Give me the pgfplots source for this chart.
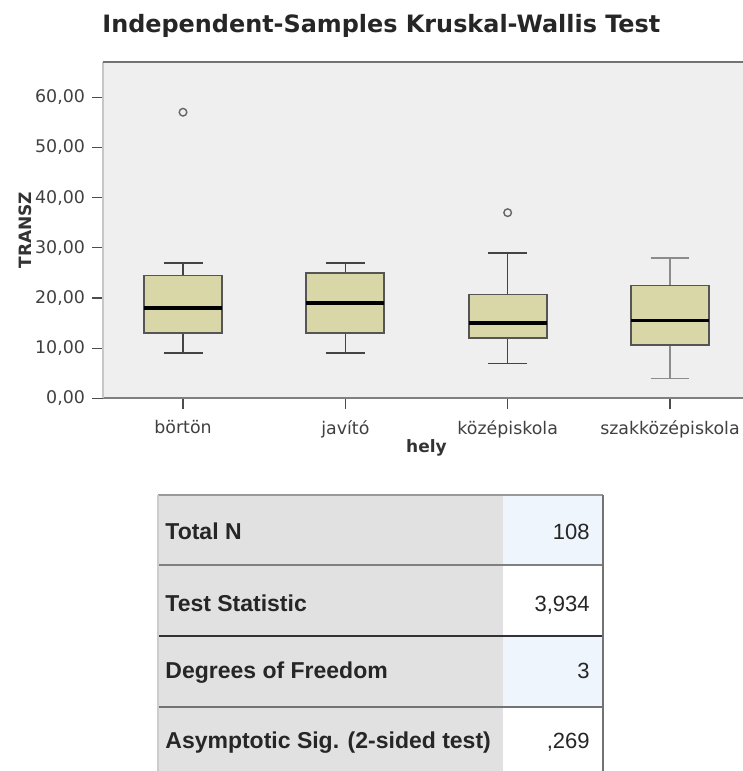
\documentclass[border=0pt]{standalone}
\usepackage{fontspec}
\setmainfont{DejaVu Sans}
\newfontfamily\libsans{Liberation Sans}
\usepackage{pgfplots}
\pgfplotsset{compat=1.18}
\usepgfplotslibrary{statistics}

\definecolor{plotbg}{HTML}{EFEFEF}
\definecolor{boxfill}{HTML}{D9D6A8}
\definecolor{boxedge}{HTML}{555555}
\definecolor{whisk}{HTML}{444444}
\definecolor{leftcol}{HTML}{E1E1E1}
\definecolor{bluecell}{HTML}{EEF5FC}

\begin{document}
\begin{tikzpicture}
\useasboundingbox (0pt,0pt) rectangle (371.5pt,385.5pt);
\begin{scope}[x=0.5pt,y=0.5pt]
\node[anchor=base west, inner sep=0pt, text=black!85,
      font=\bfseries\fontsize{11.95}{14}\selectfont] at (102,738)
      {Independent-Samples Kruskal-Wallis Test};
\end{scope}

\begin{axis}[
    at={(51.5pt,186.25pt)}, anchor=south west,
    scale only axis,
    width=323.5pt, height=168.25pt,
    xmin=0.507, xmax=4.493,
    ymin=0, ymax=67,
    axis background/.style={fill=plotbg},
    axis x line*=bottom,
    axis y line*=left,
    x axis line style={draw=black!50, line width=1pt},
    y axis line style={draw=black!22, line width=0.8pt},
    xtick={1,2,3,4},
    xticklabels={börtön,javító,középiskola,szakközépiskola},
    ytick={0,10,20,30,40,50,60},
    tick align=outside,
    major tick length=5.5pt,
    major tick style={draw=black!70, line width=0.6pt},
    tick label style={font=\fontsize{8.7}{10}\selectfont, text=black!75},
    xticklabel style={yshift=-2pt},
    yticklabel style={/pgf/number format/.cd, fixed, fixed zerofill,
        precision=2, use comma, assume math mode=true},
    xlabel={\bfseries hely},
    ylabel={\bfseries TRANSZ},
    label style={font=\bfseries\fontsize{8.5}{10}\selectfont, text=black!80},
    xlabel style={at={(axis description cs:0.5,0)}, anchor=base,
        yshift=-27.25pt},
    ylabel style={at={(axis description cs:0,0.5)}, anchor=center,
        yshift=39pt},
    boxplot/draw direction=y,
    boxplot/box extend=0.48,
    boxplot/whisker extend=0.24,
    boxplot/every median/.style={draw=black, line width=1.7pt},
    clip=false
]
\addplot[draw=boxedge, line width=0.9pt, fill=boxfill,
    mark=o, mark size=1.9pt,
    mark options={draw=black!60, line width=0.7pt, fill=none},
    boxplot/every whisker/.style={draw=whisk, line width=0.8pt},
    boxplot prepared={lower whisker=9, lower quartile=13, median=18,
        upper quartile=24.5, upper whisker=27, draw position=1}]
    coordinates {(0,57)};
\addplot[draw=boxedge, line width=0.9pt, fill=boxfill,
    boxplot/every whisker/.style={draw=whisk, line width=0.8pt},
    boxplot prepared={lower whisker=9, lower quartile=13, median=19,
        upper quartile=25, upper whisker=27, draw position=2}]
    coordinates {};
\addplot[draw=boxedge, line width=0.9pt, fill=boxfill,
    mark=o, mark size=1.9pt,
    mark options={draw=black!60, line width=0.7pt, fill=none},
    boxplot/every whisker/.style={draw=whisk, line width=0.8pt},
    boxplot prepared={lower whisker=7, lower quartile=12, median=15,
        upper quartile=20.7, upper whisker=29, draw position=3}]
    coordinates {(0,37)};
\addplot[draw=boxedge, line width=0.9pt, fill=boxfill,
    boxplot/every whisker/.style={draw=black!45, line width=0.7pt},
    boxplot prepared={lower whisker=4, lower quartile=10.6, median=15.5,
        upper quartile=22.5, upper whisker=28, draw position=4}]
    coordinates {};
\draw[black!55, line width=1pt] (rel axis cs:0,1) -- (rel axis cs:1,1);
\end{axis}

\begin{scope}[x=0.5pt,y=0.5pt]
% table cells
\fill[leftcol] (158,276) rectangle (503,-10);
\fill[bluecell] (503,276) rectangle (603,206);
\fill[white] (503,206) rectangle (603,135);
\fill[bluecell] (503,135) rectangle (603,64);
\fill[white] (503,64) rectangle (603,-10);
% rules
\draw[black!40, line width=0.8pt] (158,276) -- (603,276);
\draw[black!50, line width=0.9pt] (158,206) -- (603,206);
\draw[black!80, line width=1.3pt] (158,135) -- (603,135);
\draw[black!55, line width=1pt] (158,64) -- (603,64);
\draw[black!20, line width=1pt] (158,276) -- (158,-10);
\draw[black!55, line width=1pt] (603,276) -- (603,-10);
% labels
\begin{scope}[every node/.style={inner sep=0pt, text=black!85}]
\node[anchor=base west, font=\libsans\bfseries\fontsize{11.5}{13}\selectfont] at (165,231) {Total N};
\node[anchor=base west, font=\libsans\bfseries\fontsize{11.5}{13}\selectfont] at (165,159) {Test Statistic};
\node[anchor=base west, font=\libsans\bfseries\fontsize{11.5}{13}\selectfont] at (165,92) {Degrees of Freedom};
\node[anchor=base west, font=\libsans\bfseries\fontsize{11.5}{13}\selectfont] at (165,23) {Asymptotic Sig. (2-sided test)};
\node[anchor=base east, font=\libsans\fontsize{11}{13}\selectfont] at (590,231) {108};
\node[anchor=base east, font=\libsans\fontsize{11}{13}\selectfont] at (590,159) {3,934};
\node[anchor=base east, font=\libsans\fontsize{11}{13}\selectfont] at (590,92) {3};
\node[anchor=base east, font=\libsans\fontsize{11}{13}\selectfont] at (590,23) {,269};
\end{scope}
\end{scope}
\end{tikzpicture}
\end{document}
